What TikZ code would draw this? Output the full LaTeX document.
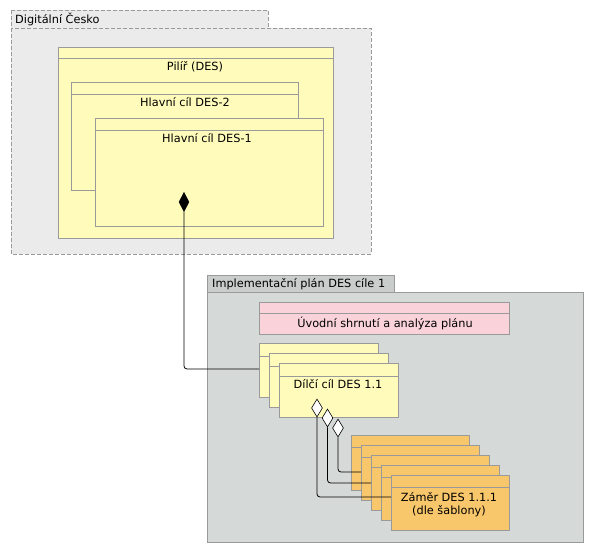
\documentclass[tikz,border=0pt]{standalone}
\usepackage{fontspec}
\setmainfont{DejaVu Sans}
\usetikzlibrary{shapes.geometric}
\definecolor{pkgA}{HTML}{EBEBEB}
\definecolor{pkgB}{HTML}{D5D9D8}
\definecolor{pkgBtab}{HTML}{C9CDCC}
\definecolor{yel}{HTML}{FFFCBB}
\definecolor{pinkc}{HTML}{F9D3D9}
\definecolor{orc}{HTML}{F9C76B}
\definecolor{brd}{HTML}{9A9A9A}
\tikzset{
  pkgdash/.style={draw=brd, dash pattern=on 4pt off 2pt, fill=pkgA, line width=0.6pt},
  pkgsolid/.style={draw=brd, fill=pkgB, line width=0.6pt},
  yelbox/.style={draw=brd, fill=yel, line width=0.6pt},
  pinkbox/.style={draw=brd, fill=pinkc, line width=0.6pt},
  orbox/.style={draw=brd, fill=orc, line width=0.6pt},
  lbl/.style={font=\fontsize{11.3}{13}\selectfont, inner sep=0pt},
  conn/.style={draw=black, line width=0.8pt, rounded corners=3pt},
  fdiam/.style={diamond, draw=black, fill=black, minimum width=10pt, minimum height=19pt, inner sep=0pt, line width=0.6pt, shape aspect=0.5},
  odiam/.style={diamond, draw=black, fill=white, minimum width=11pt, minimum height=18pt, inner sep=0pt, line width=0.6pt, shape aspect=0.6}
}
\begin{document}
\begin{tikzpicture}[x=1pt,y=-1pt]
\useasboundingbox (0,0) rectangle (594,553);
\fill[white] (0,0) rectangle (594,553);
% top package
\path[pkgdash] (11,10) rectangle (268,28);
\path[pkgdash] (11,28) rectangle (371,254);
\node[lbl, anchor=west] (pkgAlbl) at (15,19) {Digitální Česko};
% Pilir
\path[yelbox] (58,47) rectangle (333,238);
\draw[brd, line width=0.6pt] (58,58) -- (333,58);
\node[lbl] (pilir) at (195,67) {Pilíř (DES)};
\path[yelbox] (71,82) rectangle (298,190);
\draw[brd, line width=0.6pt] (71,94) -- (298,94);
\node[lbl] (des2) at (185,102) {Hlavní cíl DES-2};
\path[yelbox] (95,118) rectangle (323,226);
\draw[brd, line width=0.6pt] (95,130) -- (323,130);
\node[lbl] (des1) at (207,138) {Hlavní cíl DES-1};
\node[fdiam] (fd) at (184,202) {};
% bottom package
\path[pkgsolid, fill=pkgBtab] (207,275) rectangle (394,292);
\path[pkgsolid] (207,292) rectangle (583,542);
\node[lbl, anchor=west] (pkgBlbl) at (212,284) {Implementační plán DES cíle 1};
% pink
\path[pinkbox] (259,302) rectangle (509,334);
\draw[brd, line width=0.6pt] (259,313) -- (509,313);
\node[lbl] (uvod) at (385,323) {Úvodní shrnutí a analýza plánu};
% dilci cile
\path[yelbox] (259,343) rectangle (378,397);
\draw[brd, line width=0.6pt] (259,356) -- (378,356);
\coordinate (dc1w) at (259,369);
\path[yelbox] (269,353) rectangle (388,407);
\draw[brd, line width=0.6pt] (269,366) -- (388,366);
\path[yelbox] (279,363) rectangle (398,417);
\draw[brd, line width=0.6pt] (279,376) -- (398,376);
\node[lbl] (dc) at (338,384) {Dílčí cíl DES 1.1};
% composition connector
\draw[conn] (fd.south) |- (dc1w);
% orange boxes
\foreach \i in {0,...,4} {
  \path[orbox] (351+10*\i,435+10*\i) rectangle (469+10*\i,490+10*\i);
  \draw[brd, line width=0.6pt] (351+10*\i,447+10*\i) -- (469+10*\i,447+10*\i);
}
\coordinate (o2w) at (361,472);
\coordinate (o3w) at (371,483);
\coordinate (o5w) at (391,497);
\node[lbl] (zam1) at (449,497) {Záměr DES 1.1.1};
\node[lbl] (zam2) at (449,511) {(dle šablony)};
% aggregation diamonds
\node[odiam] (d1) at (317,408) {};
\node[odiam] (d2) at (327.5,418) {};
\node[odiam] (d3) at (338,428) {};
\draw[conn] (d1.south) |- (o5w);
\draw[conn] (d2.south) |- (o3w);
\draw[conn] (d3.south) |- (o2w);
\end{tikzpicture}
\end{document}
